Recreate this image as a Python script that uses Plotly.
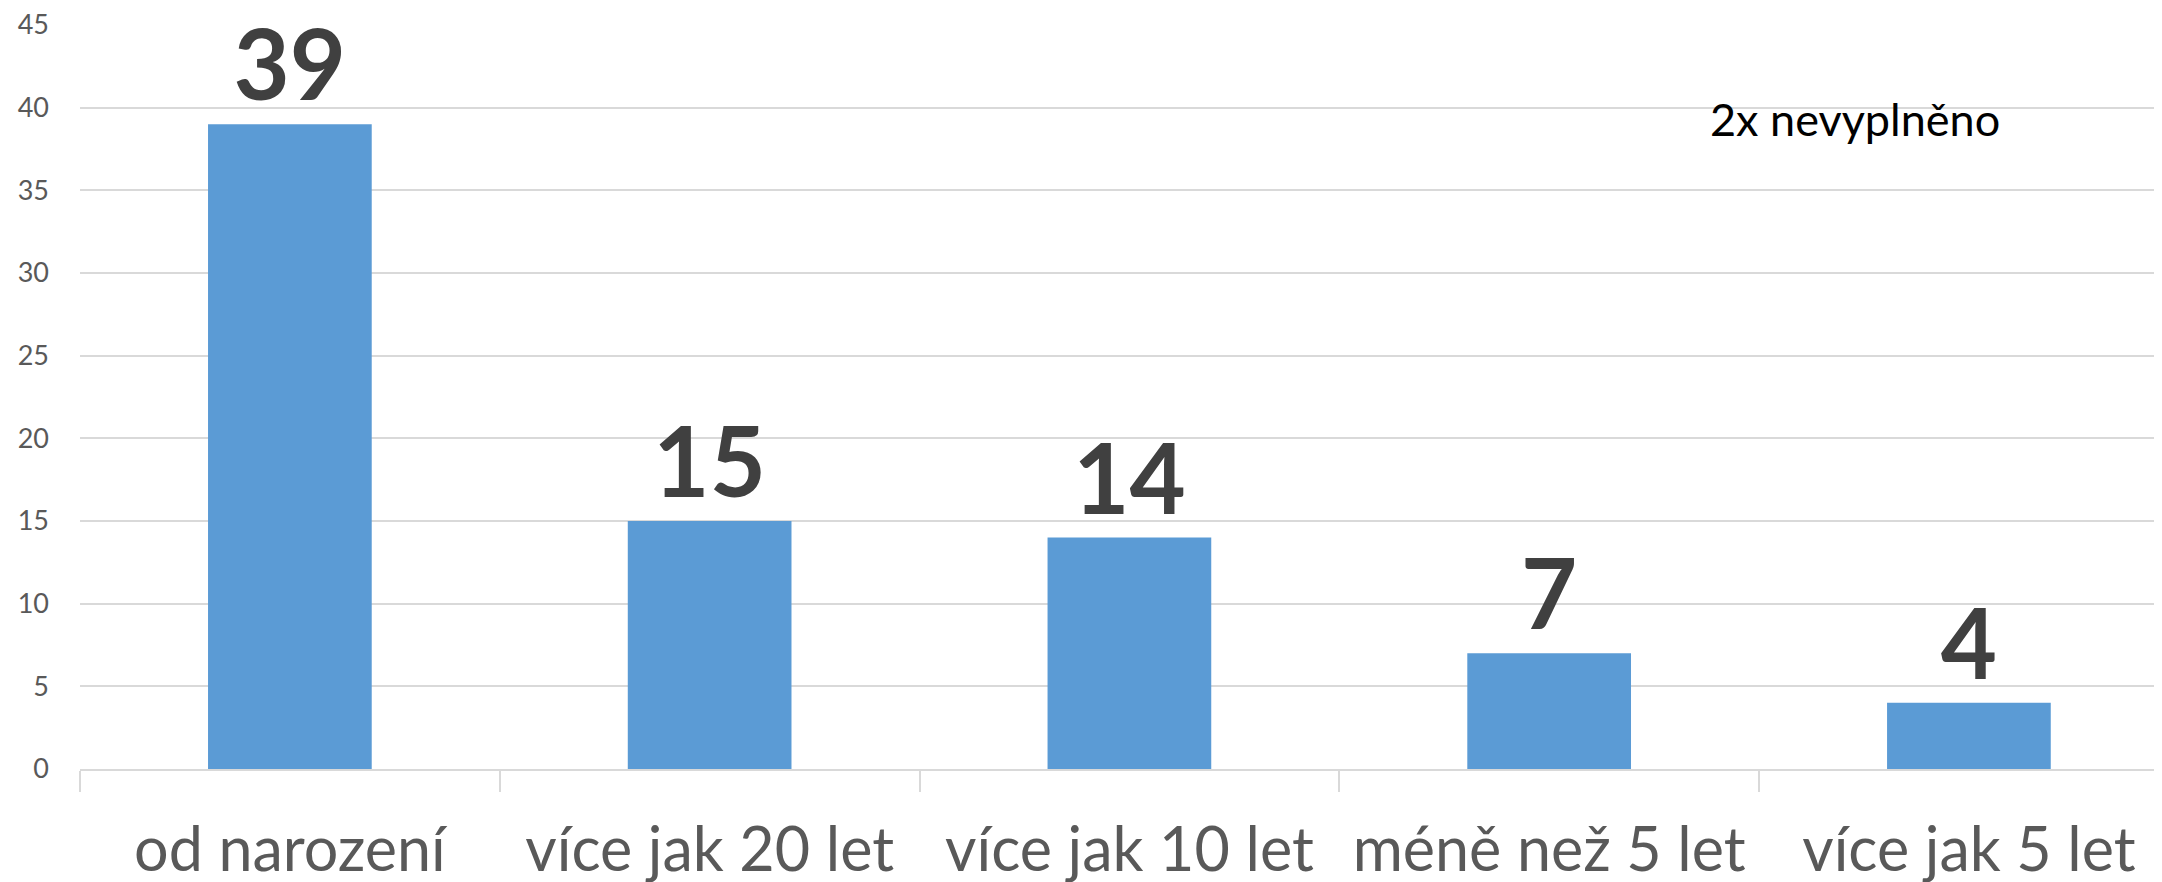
import plotly.graph_objects as go

categories = ["od narození", "více jak 20 let", "více jak 10 let", "méně než 5 let", "více jak 5 let"]
values = [39, 15, 14, 7, 4]
y_ticks = [0, 5, 10, 15, 20, 25, 30, 35, 40, 45]
note = "2x nevyplněno"

FONT = "Lato"
fig = go.Figure(go.Bar(
    x=categories, y=values,
    marker=dict(color="#5B9BD5", line=dict(width=0)),
    text=[str(v) for v in values],
    textposition="outside",
    textfont=dict(family=FONT, size=97, color="#404040", weight="bold"),
    constraintext="none",
    cliponaxis=False,
))

fig.update_layout(
    width=2162, height=882,
    margin=dict(l=72, r=8, t=17, b=121),
    paper_bgcolor="white", plot_bgcolor="white",
    bargap=0.61,
    showlegend=False,
    xaxis=dict(
        automargin=False,
        range=[-0.5, 4.46],
        showgrid=False, showline=True, linecolor="#D9D9D9", linewidth=1.5,
        ticks="outside", tickson="boundaries", ticklen=21, tickcolor="#D9D9D9", tickwidth=1.5,
        tickfont=dict(family=FONT, size=61, color="#595959"),
        ticklabelstandoff=27,
    ),
    yaxis=dict(
        automargin=False,
        range=[0, 45], tickvals=y_ticks, showgrid=True, gridcolor="#D9D9D9", gridwidth=1.5,
        zeroline=False, showline=False, ticks="",
        tickfont=dict(family=FONT, size=27, color="#595959"),
        ticklabelstandoff=30,
        ticklabeloverflow="allow",
    ),
    annotations=[dict(
        text=note, xref="paper", yref="y", x=0.8525, y=39.3,
        xanchor="center", yanchor="middle", showarrow=False,
        font=dict(family=FONT, size=45, color="#000000"),
    )],
)

fig.write_html("out.html")
